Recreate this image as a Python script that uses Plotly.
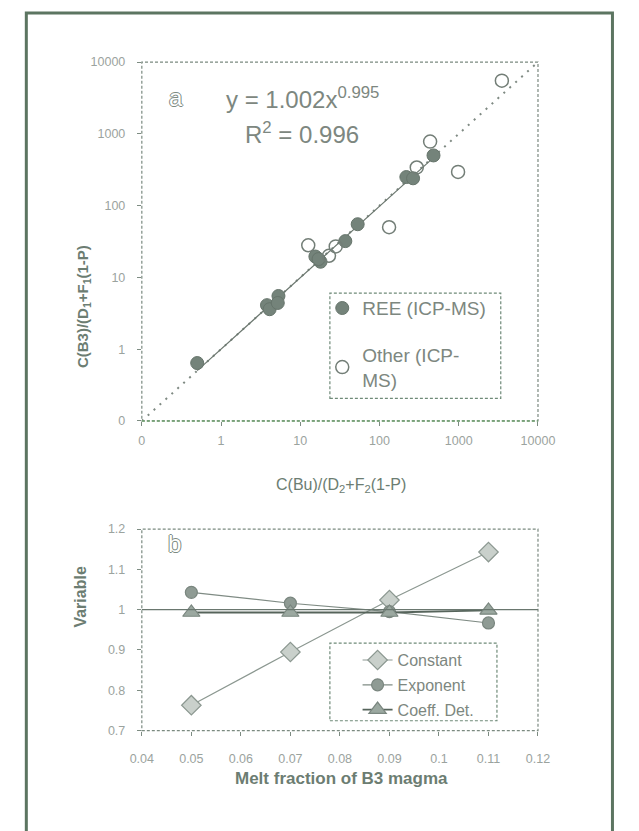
import plotly.graph_objects as go

# Panel (a): normalised concentrations, B3 vs Bu
ree_x = [0.50, 3.8, 4.1, 5.3, 5.2, 15.5, 18.0, 17.0, 37, 53, 218, 265, 480]
ree_y = [0.64, 4.1, 3.6, 5.5, 4.4, 19.5, 16.5, 18.0, 32, 55, 250, 240, 500]
other_x = [12.6, 23, 28, 132, 295, 435, 980, 3500]
other_y = [28, 20, 27, 50, 340, 780, 295, 5500]
fit_a, fit_b = 1.002, 0.995
log_ticks = [0.1, 1, 10, 100, 1000, 10000]
log_tick_text = ["0", "1", "10", "100", "1000", "10000"]

# Panel (b): fit parameters vs melt fraction
melt = [0.05, 0.07, 0.09, 0.11]
constant = [0.763, 0.895, 1.024, 1.143]
exponent = [1.043, 1.016, 0.995, 0.967]
coeff_det = [0.993, 0.993, 0.993, 0.998]

W, H = 639, 831
def px(x):
    return x / W
def py(y):
    return 1 - y / H

tick_font = dict(family="Liberation Sans, Arial", size=12.5, color="#9ba39e")
title_col = "#6c7d72"
axis_col = "#7d8c82"

fig = go.Figure()

# 1:1 reference line
fig.add_trace(go.Scatter(
    x=[log_ticks[0], log_ticks[-1]], y=[log_ticks[0], log_ticks[-1]],
    mode="lines", line=dict(color="#7f8a83", width=2, dash="2px,6px"),
    showlegend=False, hoverinfo="skip", xaxis="x", yaxis="y"))

# power-law fit over the REE range
fx = [min(ree_x), max(ree_x)]
fy = [fit_a * v ** fit_b for v in fx]
fig.add_trace(go.Scatter(
    x=fx, y=fy, mode="lines", line=dict(color="#6b776f", width=1.2),
    showlegend=False, hoverinfo="skip", xaxis="x", yaxis="y"))

fig.add_trace(go.Scatter(
    x=ree_x, y=ree_y, mode="markers", name="REE (ICP-MS)",
    marker=dict(symbol="circle", size=13, color="#74837a",
                line=dict(color="#66746b", width=1)),
    legend="legend", legendgroup="a1", xaxis="x", yaxis="y"))
fig.add_trace(go.Scatter(
    x=other_x, y=other_y, mode="markers", name="Other (ICP-<br>MS)",
    marker=dict(symbol="circle-open", size=13, color="#737e77",
                line=dict(width=1.5)),
    legend="legend", legendgroup="a2", xaxis="x", yaxis="y"))

# panel (b) series
fig.add_trace(go.Scatter(
    x=melt, y=constant, mode="lines+markers", name="Constant",
    line=dict(color="#8c9891", width=1.2),
    marker=dict(symbol="diamond", size=15, color="#c9d0cb",
                line=dict(color="#8c9891", width=1.2)),
    legend="legend2", legendgroup="b1", xaxis="x2", yaxis="y2"))
fig.add_trace(go.Scatter(
    x=melt, y=exponent, mode="lines+markers", name="Exponent",
    line=dict(color="#7f8b84", width=1.2),
    marker=dict(symbol="circle", size=12, color="#8f9b94",
                line=dict(color="#7a867f", width=1.2)),
    legend="legend2", legendgroup="b2", xaxis="x2", yaxis="y2"))
fig.add_trace(go.Scatter(
    x=melt, y=coeff_det, mode="lines+markers", name="Coeff. Det.",
    line=dict(color="#56645b", width=1.8),
    marker=dict(symbol="triangle-up", size=15, color="#9ba8a0",
                line=dict(color="#7a867f", width=1.2)),
    legend="legend2", legendgroup="b3", xaxis="x2", yaxis="y2"))

common_axis = dict(showgrid=False, zeroline=False, showline=False,
                   ticks="outside", ticklen=4, tickcolor=axis_col,
                   tickfont=tick_font, mirror=False)

shapes = []
# outer frame
shapes.append(dict(type="rect", xref="paper", yref="paper",
                   x0=px(15), x1=px(629), y0=py(845), y1=py(6),
                   line=dict(color="#5c7561", width=3)))
# plot-area borders
for (l, t, r, b) in [(136, 56, 551, 421), (136, 531, 551, 736)]:
    shapes.append(dict(type="rect", xref="paper", yref="paper",
                       x0=px(l), x1=px(r), y0=py(b), y1=py(t),
                       line=dict(color="#7b8a80", width=1.2, dash="3px,2px")))
# greenish bottom axis of panel (a)
shapes.append(dict(type="line", xref="paper", yref="paper",
                   x0=px(136), x1=px(551), y0=py(421), y1=py(421),
                   line=dict(color="#6fa06f", width=1.5, dash="3px,2px")))
# reference line at 1 in panel (b)
shapes.append(dict(type="line", xref="x2 domain", yref="y2",
                   x0=0, x1=1, y0=1, y1=1,
                   line=dict(color="#6a776f", width=1.2)))
# legend boxes
shapes.append(dict(type="rect", xref="paper", yref="paper",
                   x0=px(333), x1=px(512), y0=py(398), y1=py(291),
                   line=dict(color="#6f8a78", width=1.2, dash="3px,2px")))
shapes.append(dict(type="rect", xref="paper", yref="paper",
                   x0=px(333), x1=px(508), y0=py(726), y1=py(647),
                   line=dict(color="#6f8a78", width=1.2, dash="3px,2px")))

outline = "1px 0 0 #7d8a82, -1px 0 0 #7d8a82, 0 1px 0 #7d8a82, 0 -1px 0 #7d8a82"
annotations = [
    dict(x=px(222), y=py(93), xref="paper", yref="paper", xanchor="left",
         yanchor="middle", showarrow=False,
         text="y = 1.002x<sup>0.995</sup>",
         font=dict(family="Liberation Sans, Arial", size=24, color="#7d8780")),
    dict(x=px(242), y=py(128), xref="paper", yref="paper", xanchor="left",
         yanchor="middle", showarrow=False,
         text="R<sup>2</sup> = 0.996",
         font=dict(family="Liberation Sans, Arial", size=24, color="#7d8780")),
    dict(x=px(162), y=py(76), xref="paper", yref="paper", showarrow=False,
         text="a", font=dict(family="Liberation Sans, Arial", size=24,
                             color="white", shadow=outline)),
    dict(x=px(161), y=py(561), xref="paper", yref="paper", showarrow=False,
         text="b", font=dict(family="Liberation Sans, Arial", size=24,
                             color="white", shadow=outline)),
    dict(x=px(63), y=py(240), xref="paper", yref="paper", showarrow=False,
         textangle=-90,
         text="<b>C(B3)/(D<sub>1</sub>+F<sub>1</sub>(1-P)</b>",
         font=dict(family="Liberation Sans, Arial", size=15, color=title_col)),
    dict(x=px(345), y=py(487), xref="paper", yref="paper", showarrow=False,
         text="C(Bu)/(D<sub>2</sub>+F<sub>2</sub>(1-P)",
         font=dict(family="Liberation Sans, Arial", size=16, color=title_col)),
    dict(x=px(61), y=py(633), xref="paper", yref="paper", showarrow=False,
         textangle=-90, text="<b>Variable</b>",
         font=dict(family="Liberation Sans, Arial", size=16, color=title_col)),
    dict(x=px(345), y=py(796), xref="paper", yref="paper", showarrow=False,
         text="<b>Melt fraction of B3 magma</b>",
         font=dict(family="Liberation Sans, Arial", size=17, color=title_col)),
]

fig.update_layout(
    width=W, height=H, margin=dict(l=0, r=0, t=0, b=0),
    paper_bgcolor="white", plot_bgcolor="white",
    xaxis=dict(common_axis, type="log", range=[-1, 4],
               domain=[px(136), px(551)], anchor="y",
               tickvals=log_ticks, ticktext=log_tick_text,
               ticklabelstandoff=4),
    yaxis=dict(common_axis, type="log", range=[-1, 4],
               domain=[py(421), py(56)], anchor="x",
               tickvals=log_ticks, ticktext=log_tick_text,
               ticklabelstandoff=9),
    xaxis2=dict(common_axis, range=[0.04, 0.12], dtick=0.01, tick0=0.04,
                domain=[px(136), px(551)], anchor="y2",
                ticklabelstandoff=12),
    yaxis2=dict(common_axis, range=[0.7, 1.2], dtick=0.1, tick0=0.7,
                domain=[py(736), py(531)], anchor="x2",
                ticklabelstandoff=9),
    legend=dict(x=px(325), y=py(287), xanchor="left", yanchor="top",
                bgcolor="rgba(0,0,0,0)", borderwidth=0, tracegroupgap=19,
                font=dict(family="Liberation Sans, Arial", size=19,
                          color="#7d8780")),
    legend2=dict(x=px(362), y=py(647), xanchor="left", yanchor="top",
                 bgcolor="rgba(0,0,0,0)", borderwidth=0, tracegroupgap=1,
                 font=dict(family="Liberation Sans, Arial", size=16,
                           color="#7d8780")),
    shapes=shapes, annotations=annotations,
)

fig.write_html("out.html")
